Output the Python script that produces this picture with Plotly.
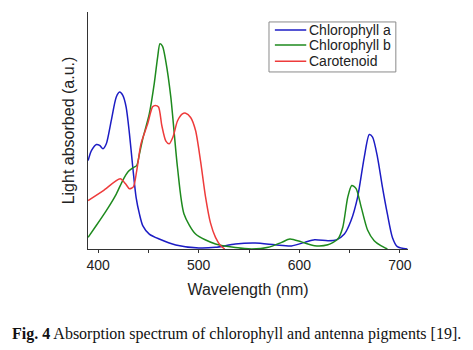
import plotly.graph_objects as go

# Chlorophyll a
wl_a = [390.1, 393.4, 398.4, 401.6, 404.9, 408.2, 413.1, 418.1, 421.4, 424.6, 427.9, 431.2,
        434.5, 437.8, 441.1, 444.4, 450.9, 460.8, 477.2, 500.2, 516.7, 536.4, 556.1, 575.8,
        592.2, 605.4, 615.2, 628.4, 636.6, 644.8, 651.4, 657.9, 664.5, 669.5, 672.8, 677.7,
        682.6, 687.5, 692.5, 697.4, 707.3]
abs_a = [0.373, 0.415, 0.441, 0.437, 0.423, 0.444, 0.542, 0.641, 0.662, 0.648, 0.599, 0.486,
         0.345, 0.218, 0.148, 0.099, 0.063, 0.042, 0.017, 0.004, 0.007, 0.021, 0.025, 0.018,
         0.013, 0.028, 0.039, 0.035, 0.038, 0.063, 0.120, 0.218, 0.387, 0.483, 0.472, 0.387,
         0.261, 0.148, 0.049, 0.010, 0.000]

# Chlorophyll b
wl_b = [390.1, 398.4, 408.2, 418.1, 424.6, 429.6, 434.5, 438.4, 441.1, 444.4, 450.9, 455.9,
        459.2, 461.5, 464.1, 467.4, 472.3, 478.9, 485.4, 496.9, 516.7, 536.4, 552.8, 569.2,
        582.4, 590.6, 602.1, 615.2, 628.4, 638.3, 643.2, 648.1, 652.1, 656.4, 661.3, 667.8,
        674.4, 681.0, 687.5]
abs_b = [0.049, 0.100, 0.162, 0.232, 0.290, 0.325, 0.342, 0.352, 0.400, 0.465, 0.570, 0.700,
         0.810, 0.866, 0.855, 0.790, 0.641, 0.345, 0.148, 0.063, 0.021, 0.006, 0.000, 0.007,
         0.028, 0.042, 0.030, 0.014, 0.018, 0.042, 0.092, 0.218, 0.268, 0.255, 0.180, 0.080,
         0.035, 0.014, 0.000]

# Carotenoid
wl_c = [390.1, 404.9, 422.0, 427.3, 431.2, 435.1, 438.4, 442.7, 449.3, 454.2, 456.9, 460.1,
        463.4, 467.4, 470.7, 474.6, 478.9, 483.8, 487.1, 492.0, 496.9, 501.9, 506.8, 511.7,
        516.7, 521.6, 525.9]
abs_c = [0.204, 0.245, 0.296, 0.275, 0.254, 0.262, 0.330, 0.444, 0.528, 0.600, 0.606, 0.599,
         0.520, 0.455, 0.444, 0.475, 0.540, 0.570, 0.573, 0.555, 0.500, 0.370, 0.220, 0.110,
         0.049, 0.015, 0.000]

x_ticks = [400, 500, 600, 700]

series = [
    ("Chlorophyll a", wl_a, abs_a, "#1c1cc4"),
    ("Chlorophyll b", wl_b, abs_b, "#1e8a1e"),
    ("Carotenoid", wl_c, abs_c, "#ee3b3b"),
]

fig = go.Figure()
for name, x, y, c in series:
    fig.add_trace(go.Scatter(x=x, y=y, name=name, mode="lines", showlegend=False,
                             line=dict(color=c, width=1.5, shape="spline", smoothing=0.7)))

# compact legend box (drawn in paper coordinates)
fig.add_shape(type="rect", xref="paper", yref="paper", x0=0.5656, x1=0.962, y0=0.747, y1=0.958,
              line=dict(color="#8a8a8a", width=1), fillcolor="white", layer="above")
row_y = [0.924, 0.861, 0.792]
for (name, _, _, c), ry in zip(series, row_y):
    fig.add_shape(type="line", xref="paper", yref="paper", x0=0.584, x1=0.682, y0=ry, y1=ry,
                  line=dict(color=c, width=1.5), layer="above")
    fig.add_annotation(text=name, xref="paper", yref="paper", x=0.686, y=ry,
                       xanchor="left", yanchor="middle", showarrow=False, borderpad=0,
                       font=dict(size=14, color="#222"))

fig.update_layout(
    width=473, height=350,
    margin=dict(l=88, r=65, t=12, b=101),
    paper_bgcolor="white", plot_bgcolor="white",
    font=dict(family="Liberation Sans, Arial", color="#222"),
    showlegend=False,
    xaxis=dict(range=[390, 708], tickvals=x_ticks, ticktext=[str(v) for v in x_ticks],
               showline=True, linecolor="#333", linewidth=1.3,
               ticks="outside", ticklen=3, tickcolor="#333",
               minor=dict(tickvals=[450, 550, 650], ticks="outside", ticklen=3, tickcolor="#333"),
               showgrid=False, zeroline=False, tickfont=dict(size=14),
               title=dict(text="Wavelength (nm)", font=dict(size=16), standoff=11)),
    yaxis=dict(range=[0, 1], showline=True, linecolor="#333", linewidth=1.3,
               showticklabels=False, ticks="", showgrid=False, zeroline=False,
               title=dict(text="Light absorbed (a.u.)", font=dict(size=16), standoff=8)),
)

fig.add_annotation(
    text="<b>Fig. 4</b> Absorption spectrum of chlorophyll and antenna pigments [19].",
    xref="paper", yref="paper", x=0.4625, y=-0.359, xanchor="center", yanchor="middle",
    showarrow=False, font=dict(family="Liberation Serif, Times New Roman", size=16, color="#111"))

fig.write_html("out.html")
